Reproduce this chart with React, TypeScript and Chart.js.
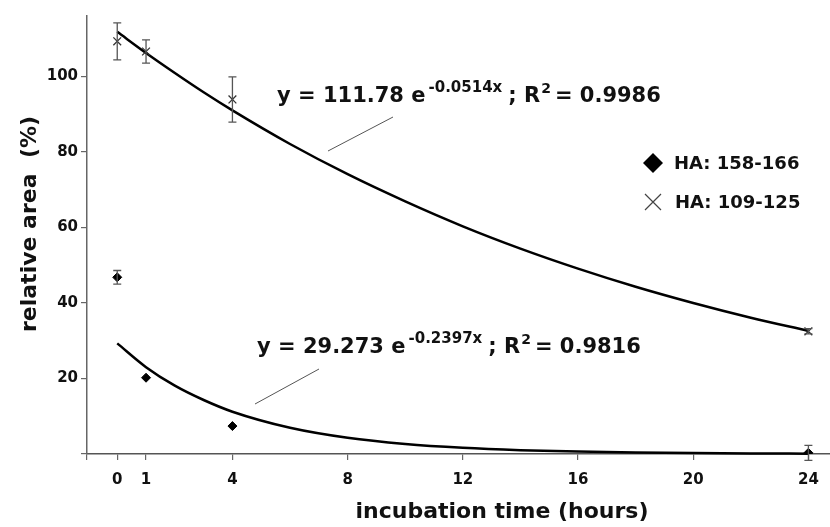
import React, { useEffect, useRef } from "react";
import { Chart, registerables } from "chart.js";

Chart.register(...registerables);

// ---- data ----
const sampleTimes = [0, 1, 4, 24];
const ha158Values = [46.8, 20.2, 7.4, 0.3];
const ha158Errors = [1.8, 0, 0, 2.0];
const ha109Values = [109.3, 106.6, 93.9, 32.5];
const ha109Errors = [4.9, 3.1, 6.0, 0.7];

// trend curves
const fitTimes = [0, 1, 2, 3, 4, 6, 8, 10, 12, 14, 16, 18, 20, 22, 24];
const fit109Values = [111.8, 106.2, 100.9, 95.8, 91.0, 82.1, 74.1, 66.9, 60.3, 54.4, 49.1, 44.3, 40.0, 36.1, 32.6];
const fit158Values = [29.3, 23.0, 18.1, 14.3, 11.2, 6.95, 4.3, 2.66, 1.65, 1.02, 0.63, 0.39, 0.24, 0.15, 0.09];

const xTickValues = [0, 1, 4, 8, 12, 16, 20, 24];
const yTickValues = [0, 20, 40, 60, 80, 100];

const seriesNames = ["HA: 158-166", "HA: 109-125"];
const eq109 = { a: "y = 111.78 e", exp: "-0.0514x", r2: "= 0.9986" };
const eq158 = { a: "y = 29.273 e", exp: "-0.2397x", r2: "= 0.9816" };
const xTitle = "incubation time (hours)";
const yTitle = "relative area  (%)";

const FONT = "DejaVu Sans";
const X_MIN = -1.05;
const X_MAX = 24.75;
const Y_MIN = 0;
const Y_MAX = 116;

const decorPlugin = {
  id: "decor",
  afterDatasetsDraw(chart: any) {
    const ctx = chart.ctx as CanvasRenderingContext2D;
    const xs = chart.scales.x;
    const ys = chart.scales.y;
    ctx.save();
    // error bars
    const drawErr = (vals: number[], errs: number[]) => {
      ctx.strokeStyle = "#555";
      ctx.lineWidth = 1.3;
      sampleTimes.forEach((t, i) => {
        if (!errs[i]) return;
        const px = xs.getPixelForValue(t);
        const top = ys.getPixelForValue(vals[i] + errs[i]);
        const bot = ys.getPixelForValue(vals[i] - errs[i]);
        ctx.beginPath();
        ctx.moveTo(px, top);
        ctx.lineTo(px, bot);
        ctx.moveTo(px - 4, top);
        ctx.lineTo(px + 4, top);
        ctx.moveTo(px - 4, bot);
        ctx.lineTo(px + 4, bot);
        ctx.stroke();
      });
    };
    drawErr(ha109Values, ha109Errors);
    drawErr(ha158Values, ha158Errors);

    // equations
    const drawEq = (eq: any, x: number, base: number) => {
      ctx.fillStyle = "#111";
      ctx.textAlign = "left";
      ctx.textBaseline = "alphabetic";
      ctx.font = `bold 21px "${FONT}"`;
      ctx.fillText(eq.a, x, base);
      let cx = x + ctx.measureText(eq.a).width + 3;
      ctx.font = `bold 15px "${FONT}"`;
      ctx.fillText(eq.exp, cx, base - 10);
      cx += ctx.measureText(eq.exp).width + 6;
      ctx.font = `bold 21px "${FONT}"`;
      ctx.fillText("; R", cx, base);
      cx += ctx.measureText("; R").width + 1;
      ctx.font = `bold 14px "${FONT}"`;
      ctx.fillText("2", cx, base - 9);
      cx += ctx.measureText("2").width + 4;
      ctx.font = `bold 21px "${FONT}"`;
      ctx.fillText(eq.r2, cx, base);
    };
    drawEq(eq109, 277, 102);
    drawEq(eq158, 257, 353);

    // leader lines
    ctx.strokeStyle = "#555";
    ctx.lineWidth = 1;
    ctx.beginPath();
    ctx.moveTo(328, 151);
    ctx.lineTo(393, 117);
    ctx.moveTo(255, 404);
    ctx.lineTo(319, 369);
    ctx.stroke();

    // legend
    ctx.fillStyle = "#000";
    ctx.beginPath();
    ctx.moveTo(653, 153);
    ctx.lineTo(663, 163);
    ctx.lineTo(653, 173);
    ctx.lineTo(643, 163);
    ctx.closePath();
    ctx.fill();
    ctx.strokeStyle = "#444";
    ctx.lineWidth = 1.2;
    ctx.beginPath();
    ctx.moveTo(645, 194);
    ctx.lineTo(661, 210);
    ctx.moveTo(661, 194);
    ctx.lineTo(645, 210);
    ctx.stroke();
    ctx.fillStyle = "#111";
    ctx.font = `bold 18px "${FONT}"`;
    ctx.textBaseline = "middle";
    ctx.fillText(seriesNames[0], 674, 164);
    ctx.fillText(seriesNames[1], 675, 203);

    // axis titles
    ctx.font = `bold 22px "${FONT}"`;
    ctx.textAlign = "center";
    ctx.textBaseline = "alphabetic";
    ctx.fillText(xTitle, 502, 518);
    ctx.save();
    ctx.translate(36, 224);
    ctx.rotate(-Math.PI / 2);
    ctx.fillText(yTitle, 0, 0);
    ctx.restore();
    ctx.restore();
  },
};

export default function App() {
  const ref = useRef<HTMLCanvasElement | null>(null);
  useEffect(() => {
    if (!ref.current) return;
    const chart = new Chart(ref.current, {
      type: "scatter",
      data: {
        datasets: [
          {
            label: seriesNames[0],
            data: sampleTimes.map((t, i) => ({ x: t, y: ha158Values[i] })),
            pointStyle: "rectRot",
            pointRadius: 4.5,
            backgroundColor: "#000",
            borderColor: "#000",
            borderWidth: 1,
            showLine: false,
          },
          {
            label: seriesNames[1],
            data: sampleTimes.map((t, i) => ({ x: t, y: ha109Values[i] })),
            pointStyle: "crossRot",
            pointRadius: 5.5,
            borderColor: "#333",
            borderWidth: 1.3,
            showLine: false,
          },
          {
            label: "fit 109-125",
            data: fitTimes.map((t, i) => ({ x: t, y: fit109Values[i] })),
            showLine: true,
            pointRadius: 0,
            borderColor: "#000",
            borderWidth: 2.5,
            cubicInterpolationMode: "monotone",
            clip: 4,
          } as any,
          {
            label: "fit 158-166",
            data: fitTimes.map((t, i) => ({ x: t, y: fit158Values[i] })),
            showLine: true,
            pointRadius: 0,
            borderColor: "#000",
            borderWidth: 2.5,
            cubicInterpolationMode: "monotone",
            clip: 4,
          } as any,
        ],
      },
      options: {
        responsive: false,
        animation: false,
        devicePixelRatio: 1,
        layout: { autoPadding: false, padding: { top: 16, left: 0, right: 0, bottom: 0 } },
        plugins: { legend: { display: false }, tooltip: { enabled: false } },
        scales: {
          x: {
            type: "linear",
            min: X_MIN,
            max: X_MAX,
            afterBuildTicks: (s: any) => {
              s.ticks = [X_MIN, ...xTickValues].map((v) => ({ value: v }));
            },
            afterFit: (s: any) => {
              s.height = 73;
            },
            ticks: {
              autoSkip: false,
              maxRotation: 0,
              padding: 11,
              color: "#111",
              font: { family: FONT, weight: "bold", size: 15 },
              callback: (v: any) => (v === X_MIN ? "" : String(v)),
            },
            grid: { drawOnChartArea: false, drawTicks: true, tickLength: 6, color: "#666", lineWidth: 1.2 },
            border: { display: true, color: "#555", width: 1.5 },
          },
          y: {
            type: "linear",
            min: Y_MIN,
            max: Y_MAX,
            afterBuildTicks: (s: any) => {
              s.ticks = yTickValues.map((v) => ({ value: v }));
            },
            afterFit: (s: any) => {
              s.width = 87;
            },
            ticks: {
              padding: 3,
              color: "#111",
              font: { family: FONT, weight: "bold", size: 15 },
              callback: (v: any) => (v === 0 ? "" : String(v)),
            },
            grid: { drawOnChartArea: false, drawTicks: true, tickLength: 6, color: "#666", lineWidth: 1.2 },
            border: { display: true, color: "#666", width: 1.5 },
          },
        },
      } as any,
      plugins: [decorPlugin],
    });
    return () => chart.destroy();
  }, []);
  return (
    <div style={{ position: "absolute", left: 0, top: 0, width: 830, height: 527, background: "#fff" }}>
      <canvas ref={ref} width={830} height={527} />
    </div>
  );
}
